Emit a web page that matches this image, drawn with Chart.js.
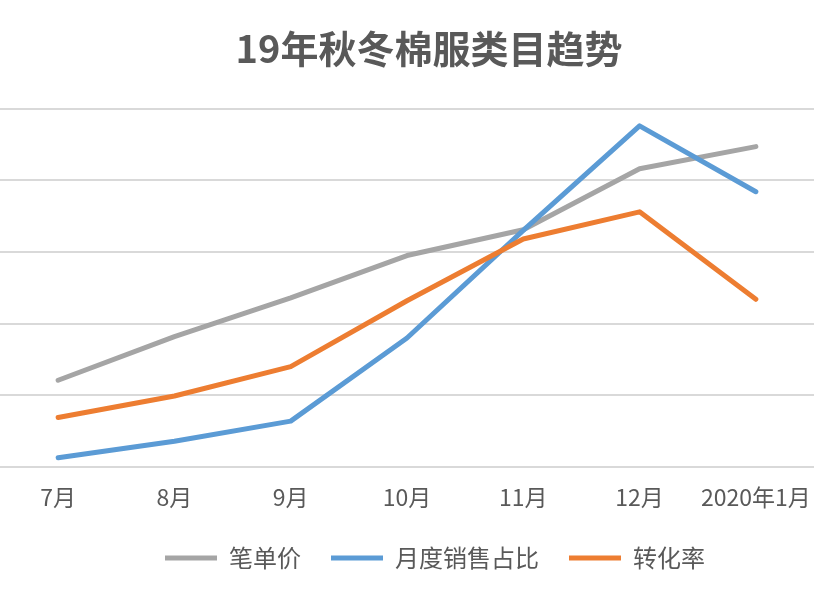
<!DOCTYPE html>
<html>
<head>
<meta charset="utf-8">
<script src="https://cdn.jsdelivr.net/npm/chart.js@4"></script>
<style>
  html, body { margin: 0; padding: 0; background: #ffffff; }
  #wrap { width: 835px; height: 600px; }
</style>
</head>
<body>
<div id="wrap"><canvas id="c" width="835" height="600"></canvas></div>
<script>
const categories = ['7月', '8月', '9月', '10月', '11月', '12月', '2020年1月'];
const seriesNames = ['笔单价', '月度销售占比', '转化率'];
const priceValues = [1.21, 1.82, 2.36, 2.95, 3.31, 4.16, 4.47];
const salesShareValues = [0.13, 0.36, 0.64, 1.80, 3.30, 4.76, 3.84];
const conversionValues = [0.69, 0.99, 1.40, 2.32, 3.18, 3.56, 2.34];
const yTicks = [0, 1, 2, 3, 4, 5];

const FONT = "'Noto Sans CJK SC', 'Noto Sans', sans-serif";

const shiftBoxes = {
  id: 'shiftBoxes',
  afterLayout(chart) {
    const t = chart.titleBlock;
    if (t) { t.left += 22; t.right += 22; }
    const l = chart.legend;
    if (l) { l.left += 28; l.right += 28; }
  }
};

function makeDataset(label, data, color, order) {
  return {
    label: label,
    data: data,
    borderColor: color,
    backgroundColor: color,
    borderWidth: 5,
    pointRadius: 0,
    pointHoverRadius: 0,
    tension: 0,
    fill: false,
    borderCapStyle: 'round',
    borderJoinStyle: 'round',
    order: order
  };
}

new Chart(document.getElementById('c'), {
  type: 'line',
  data: {
    labels: categories,
    datasets: [
      makeDataset(seriesNames[0], priceValues, '#a5a5a5', 3),
      makeDataset(seriesNames[1], salesShareValues, '#5b9bd5', 2),
      makeDataset(seriesNames[2], conversionValues, '#ed7d31', 1)
    ]
  },
  options: {
    responsive: false,
    animation: false,
    layout: { padding: { left: 0, right: 21, top: 0, bottom: 20 } },
    plugins: {
      title: {
        display: true,
        text: '19年秋冬棉服类目趋势',
        color: '#595959',
        font: { family: FONT, size: 38, weight: 'bold' },
        padding: { top: 26, bottom: 37 }
      },
      legend: {
        display: true,
        position: 'bottom',
        labels: {
          color: '#595959',
          font: { family: FONT, size: 24 },
          usePointStyle: true,
          pointStyle: 'line',
          pointStyleWidth: 52,
          boxHeight: 24,
          padding: 30,
          sort: (a, b) => a.datasetIndex - b.datasetIndex
        }
      },
      tooltip: { enabled: false }
    },
    scales: {
      x: {
        offset: true,
        grid: { display: false, drawTicks: false },
        border: { display: false },
        ticks: {
          color: '#595959',
          font: { family: FONT, size: 23 },
          padding: 16,
          maxRotation: 0,
          autoSkip: false
        },
        afterFit(scale) { scale.height = 49; }
      },
      y: {
        min: yTicks[0],
        max: yTicks[yTicks.length - 1],
        afterBuildTicks(scale) { scale.ticks = yTicks.map(v => ({ value: v })); },
        grid: { color: '#d9d9d9', lineWidth: 2, drawTicks: false },
        border: { display: false },
        ticks: { display: false }
      }
    }
  },
  plugins: [shiftBoxes]
});
</script>
</body>
</html>
